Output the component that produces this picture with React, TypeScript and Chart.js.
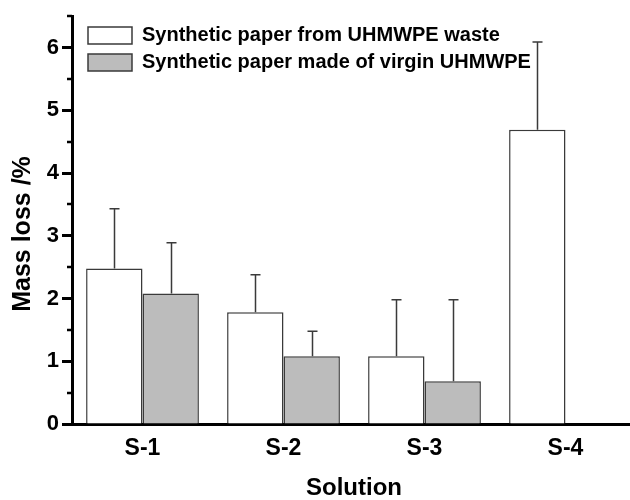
import React, { useEffect, useRef } from 'react';
import { Chart, registerables } from 'chart.js';

Chart.register(...registerables);

const categories = ['S-1', 'S-2', 'S-3', 'S-4'];
const seriesLabels = ['Synthetic paper from UHMWPE waste', 'Synthetic paper made of virgin UHMWPE'];
const wasteValues = [2.48, 1.78, 1.08, 4.69];
const wasteErrors = [0.95, 0.6, 0.9, 1.4];
const virginValues: (number | null)[] = [2.08, 1.08, 0.68, null];
const virginErrors: (number | null)[] = [0.81, 0.4, 1.3, null];
const yTickLabels = [0, 1, 2, 3, 4, 5, 6];
const yMin = 0;
const yMax = 6.5;
const yStep = 0.5;
const xTitle = 'Solution';
const yTitle = 'Mass loss /%';

const FONT = "'Liberation Sans', Arial, Helvetica, sans-serif";
const EDGE = '#3a3a3a';

const errorBarPlugin = {
  id: 'errorBars',
  afterDatasetsDraw(chart: any) {
    const { ctx } = chart;
    const y = chart.scales.y;
    ctx.save();
    ctx.strokeStyle = EDGE;
    ctx.lineWidth = 1.5;
    chart.data.datasets.forEach((ds: any, i: number) => {
      const meta = chart.getDatasetMeta(i);
      meta.data.forEach((el: any, j: number) => {
        const v = ds.data[j];
        const e = ds.errors ? ds.errors[j] : null;
        if (v == null || e == null) return;
        const yTop = y.getPixelForValue(v + e);
        const x = Math.round(el.x) + 0.5;
        ctx.beginPath();
        ctx.moveTo(x, el.y);
        ctx.lineTo(x, yTop);
        ctx.moveTo(x - 5, yTop);
        ctx.lineTo(x + 5, yTop);
        ctx.stroke();
      });
    });
    ctx.restore();
  },
};

const minorTickPlugin = {
  id: 'minorTicks',
  afterDraw(chart: any) {
    const { ctx, chartArea } = chart;
    const y = chart.scales.y;
    ctx.save();
    ctx.strokeStyle = '#000';
    ctx.lineWidth = 2.5;
    y.ticks.forEach((t: any) => {
      if (yTickLabels.includes(t.value)) return;
      const py = Math.round(y.getPixelForValue(t.value));
      ctx.beginPath();
      ctx.moveTo(chartArea.left - 5, py);
      ctx.lineTo(chartArea.left, py);
      ctx.stroke();
    });
    ctx.restore();
  },
};

const legendShiftPlugin = {
  id: 'legendShift',
  afterLayout(chart: any) {
    const l = chart.legend;
    if (l) {
      l.left = chart.chartArea.left + 9;
      l.top = 18.5;
    }
  },
};

export default function App() {
  const ref = useRef<HTMLCanvasElement | null>(null);

  useEffect(() => {
    if (!ref.current) return;
    const chart = new Chart(ref.current, {
      type: 'bar',
      data: {
        labels: categories,
        datasets: [
          {
            label: seriesLabels[0],
            data: wasteValues,
            errors: wasteErrors,
            backgroundColor: '#ffffff',
            borderColor: EDGE,
            borderWidth: 1.5,
          } as any,
          {
            label: seriesLabels[1],
            data: virginValues,
            errors: virginErrors,
            backgroundColor: '#bcbcbc',
            borderColor: EDGE,
            borderWidth: 1.5,
          } as any,
        ],
      },
      options: {
        responsive: false,
        animation: false,
        devicePixelRatio: 1,
        layout: { padding: { left: 11, top: 15, right: 6, bottom: 0 } },
        datasets: { bar: { categoryPercentage: 0.8, barPercentage: 1.0 } },
        plugins: {
          legend: {
            position: 'chartArea' as any,
            align: 'start',
            labels: {
              boxWidth: 44,
              boxHeight: 17,
              padding: 7,
              color: '#000',
              font: { family: FONT, size: 20, weight: 'bold' },
            },
          },
          tooltip: { enabled: false },
        },
        scales: {
          x: {
            grid: { display: false },
            border: { display: true, color: '#000', width: 3 },
            ticks: {
              color: '#000',
              padding: 3,
              font: { family: FONT, size: 23, weight: 'bold' },
            },
            title: {
              display: true,
              text: xTitle,
              color: '#000',
              padding: 0,
              font: { family: FONT, size: 24, weight: 'bold', lineHeight: 1 },
            },
            afterFit(s: any) {
              s.height = 76;
            },
          },
          y: {
            min: yMin,
            max: yMax,
            grid: {
              display: true,
              drawOnChartArea: false,
              drawTicks: true,
              tickLength: 10,
              tickWidth: 3,
              tickColor: (c: any) => (yTickLabels.includes(c.tick?.value) ? '#000' : 'rgba(0,0,0,0)'),
            },
            border: { display: true, color: '#000', width: 3 },
            ticks: {
              stepSize: yStep,
              autoSkip: false,
              color: '#000',
              padding: 3,
              font: { family: FONT, size: 22, weight: 'bold' },
              callback: (v: any) => (yTickLabels.includes(Number(v)) ? String(v) : ''),
            },
            title: {
              display: true,
              text: yTitle + '    ',
              color: '#000',
              padding: 0,
              font: { family: FONT, size: 25, weight: 'bold', lineHeight: 1 },
            },
            afterFit(s: any) {
              s.width = 61;
            },
          },
        },
      },
      plugins: [errorBarPlugin, minorTickPlugin, legendShiftPlugin],
    } as any);
    return () => chart.destroy();
  }, []);

  return (
    <div
      style={{
        position: 'fixed',
        left: 0,
        top: 0,
        width: 630,
        height: 500,
        overflow: 'hidden',
        background: '#fff',
      }}
    >
      <canvas ref={ref} width={642} height={500} style={{ display: 'block' }} />
    </div>
  );
}
